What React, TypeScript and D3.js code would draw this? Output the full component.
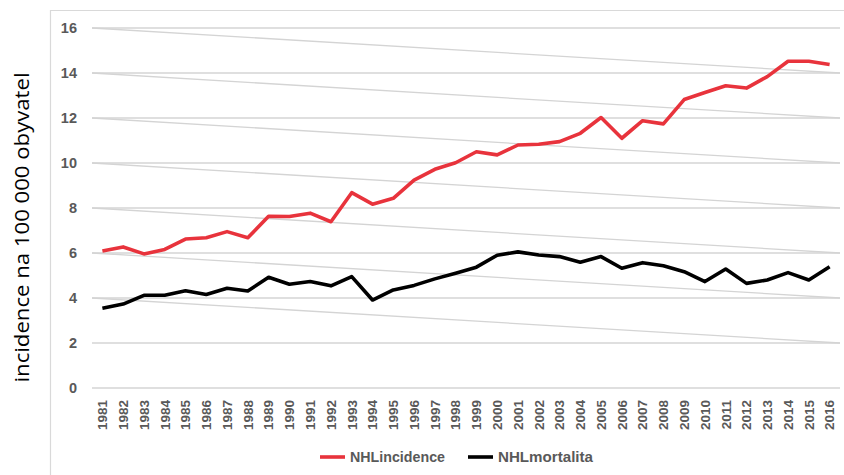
import { useEffect, useRef } from 'react';
import * as d3 from 'd3';

const years: string[] = d3.range(1981, 2017).map(String);
const incidence: number[] = [
  6.09, 6.27, 5.96, 6.16, 6.62, 6.68, 6.95, 6.68, 7.63, 7.62, 7.77, 7.39, 8.68, 8.17, 8.43, 9.24, 9.72, 10.01,
  10.5, 10.36, 10.8, 10.83, 10.95, 11.32, 12.02, 11.1, 11.88, 11.74, 12.82, 13.13, 13.43, 13.33, 13.84, 14.52, 14.52, 14.38,
];
const mortality: number[] = [
  3.54, 3.73, 4.12, 4.12, 4.32, 4.16, 4.43, 4.31, 4.92, 4.61, 4.73, 4.54, 4.95, 3.91, 4.36, 4.56, 4.85, 5.1,
  5.37, 5.9, 6.05, 5.91, 5.84, 5.59, 5.84, 5.32, 5.57, 5.43, 5.17, 4.73, 5.29, 4.65, 4.8, 5.13, 4.8, 5.39,
];
const yTicks: number[] = [0, 2, 4, 6, 8, 10, 12, 14, 16];
const slantStarts: number[] = [4, 6, 8, 10, 12, 14, 16];
const seriesNames: string[] = ['NHLincidence', 'NHLmortalita'];
const seriesColors: string[] = ['#e8333c', '#000000'];

export default function App() {
  const ref = useRef<SVGSVGElement | null>(null);

  useEffect(() => {
    const node = ref.current;
    if (!node) return;
    const width = 844;
    const height = 475;
    const margin = { top: 28, right: 4, bottom: 87, left: 92 };
    const svg = d3.select(node);
    svg.selectAll('*').remove();

    const x = d3.scaleBand<string>().domain(years).range([margin.left, width - margin.right]);
    const y = d3.scaleLinear().domain([0, 16]).range([height - margin.bottom, margin.top]);
    const cx = (d: string) => (x(d) || 0) + x.bandwidth() / 2;
    const x0 = margin.left;
    const x1 = width - margin.right;

    // chart frame
    svg.append('path')
      .attr('d', `M50.5,${height}V10.5H${width}`)
      .attr('fill', 'none')
      .attr('stroke', '#d9d9d9')
      .attr('stroke-width', 1.2);

    // horizontal grid
    svg.append('g')
      .selectAll('line')
      .data(yTicks)
      .join('line')
      .attr('x1', x0)
      .attr('x2', x1)
      .attr('y1', (d) => y(d))
      .attr('y2', (d) => y(d))
      .attr('stroke', '#d4d4d4')
      .attr('stroke-width', 1.3);

    // slanted lines
    svg.append('g')
      .selectAll('line')
      .data(slantStarts)
      .join('line')
      .attr('x1', x0)
      .attr('x2', x1)
      .attr('y1', (d) => y(d))
      .attr('y2', (d) => y(d - 2))
      .attr('stroke', '#d4d4d4')
      .attr('stroke-width', 1.3);

    // y tick labels
    svg.append('g')
      .selectAll('text')
      .data(yTicks)
      .join('text')
      .attr('x', 77)
      .attr('y', (d) => y(d))
      .attr('dy', '0.35em')
      .attr('text-anchor', 'end')
      .attr('font-family', 'Liberation Sans, Arial, sans-serif')
      .attr('font-weight', 'bold')
      .attr('font-size', 14.5)
      .attr('fill', '#595959')
      .text((d) => d);

    // x tick labels
    svg.append('g')
      .selectAll('text')
      .data(years)
      .join('text')
      .attr('transform', (d) => `translate(${cx(d)},400) rotate(-90)`)
      .attr('dy', '0.36em')
      .attr('text-anchor', 'end')
      .attr('font-family', 'Liberation Sans, Arial, sans-serif')
      .attr('font-weight', 'bold')
      .attr('font-size', 13.5)
      .attr('fill', '#595959')
      .text((d) => d);

    // y title
    svg.append('text')
      .attr('transform', `translate(29,227.5) rotate(-90)`)
      .attr('text-anchor', 'middle')
      .attr('font-family', 'Open Sans, sans-serif')
      .attr('font-size', 20.5)
      .attr('textLength', 310)
      .attr('lengthAdjust', 'spacingAndGlyphs')
      .attr('fill', '#000')
      .text('incidence na 100 000 obyvatel');

    const line = d3.line<number>()
      .x((_, i) => cx(years[i]))
      .y((d) => y(d));

    [incidence, mortality].forEach((data, i) => {
      svg.append('path')
        .datum(data)
        .attr('d', line)
        .attr('fill', 'none')
        .attr('stroke', seriesColors[i])
        .attr('stroke-width', 3.6)
        .attr('stroke-linejoin', 'round');
    });

    // legend
    const legendX = [320, 468];
    const lg = svg.append('g');
    seriesNames.forEach((name, i) => {
      lg.append('line')
        .attr('x1', legendX[i])
        .attr('x2', legendX[i] + 25)
        .attr('y1', 457)
        .attr('y2', 457)
        .attr('stroke', seriesColors[i])
        .attr('stroke-width', 3.6);
      lg.append('text')
        .attr('x', legendX[i] + 30)
        .attr('y', 457)
        .attr('dy', '0.36em')
        .attr('font-family', 'Liberation Sans, Arial, sans-serif')
        .attr('font-weight', 'bold')
        .attr('font-size', 14.5)
        .attr('textLength', 95)
        .attr('lengthAdjust', 'spacingAndGlyphs')
        .attr('fill', '#595959')
        .text(name);
    });
  }, []);

  return (
    <svg
      ref={ref}
      width={844}
      height={475}
      style={{ position: 'absolute', left: 0, top: 0, background: '#fff' }}
    />
  );
}
